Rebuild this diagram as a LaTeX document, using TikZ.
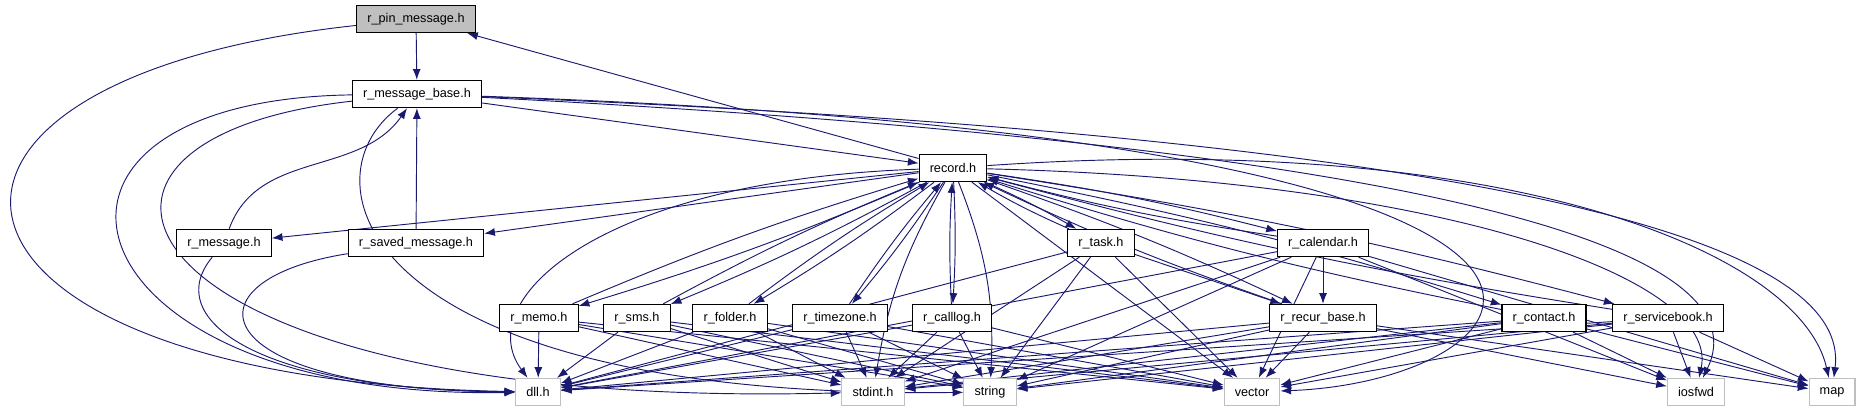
\documentclass[tikz,border=0pt]{standalone}
\usepackage{fontspec}
\setmainfont{Liberation Sans}
\usetikzlibrary{arrows.meta,backgrounds}
\definecolor{incblue}{HTML}{191970}
\definecolor{sysgray}{HTML}{BFBFBF}
\tikzset{
  file/.style={draw=black,fill=white,line width=0.8pt,font=\fontsize{9.5}{11}\selectfont,
    inner xsep=8pt,inner ysep=0pt,minimum height=20.5pt},
  rootfile/.style={file,fill=sysgray},
  sysfile/.style={file,draw=sysgray},
  inc/.style={draw=incblue,line width=0.7pt,-{Latex[length=8pt,width=6pt]}}
}
\begin{document}
\begin{tikzpicture}[x=0.75pt,y=0.75pt]
\useasboundingbox (0,0) rectangle (1859,411);

\node[rootfile] (pin) at (416,392) {r\_pin\_message.h};
\node[file] (mbase) at (417,317) {r\_message\_base.h};
\node[file] (record) at (953,243) {record.h};

\node[file] (msg) at (224,168) {r\_message.h};
\node[file] (saved) at (416,168) {r\_saved\_message.h};
\node[file] (task) at (1101,168) {r\_task.h};
\node[file] (cal) at (1323,168) {r\_calendar.h};

\node[file] (memo) at (539,93) {r\_memo.h};
\node[file] (sms) at (637,93) {r\_sms.h};
\node[file] (folder) at (730,93) {r\_folder.h};
\node[file] (tz) at (840,93) {r\_timezone.h};
\node[file] (calllog) at (952,93) {r\_calllog.h};
\node[file] (recur) at (1323,93) {r\_recur\_base.h};
\node[file] (contact) at (1544,93) {r\_contact.h};
\node[file] (sb) at (1668,93) {r\_servicebook.h};

\node[sysfile] (dll) at (538,19) {dll.h};
\node[sysfile] (stdint) at (873,19) {stdint.h};
\node[sysfile] (string) at (990,19) {string};
\node[sysfile] (vector) at (1252,19) {vector};
\node[sysfile] (iosfwd) at (1696,19) {iosfwd};
\node[sysfile] (map) at (1832,19) {map};

\begin{scope}[on background layer]
\draw[inc] (pin) -- (mbase);
\draw[inc] (pin) .. controls (-150,331) and (-100,31) .. (dll);
\draw[inc] (record) -- (pin);

\draw[inc] (mbase) -- (record);
\draw[inc] (mbase) .. controls (-20,311) and (60,11) .. (dll);
\draw[inc] (mbase) .. controls (0,271) and (120,0) .. (stdint);
\draw[inc] (mbase) .. controls (300,231) and (360,11) .. (string);
\draw[inc] (mbase) .. controls (1750,271) and (1550,30) .. (vector);
\draw[inc] (mbase) .. controls (1500,261) and (1760,151) .. (iosfwd);
\draw[inc] (mbase) .. controls (1550,271) and (1850,161) .. (map);

\draw[inc] (record) -- (msg);
\draw[inc] (record) -- (saved);
\draw[inc] (msg) to[out=70,in=235] (mbase);
\draw[inc] (saved) -- (mbase);
\draw[inc] (msg) .. controls (160,91) and (260,21) .. (dll);
\draw[inc] (saved) .. controls (180,131) and (200,21) .. (dll);

\draw[inc] (record) .. controls (600,231) and (470,111) .. (dll);
\draw[inc] (record) to[bend right=10] (stdint);
\draw[inc] (record) to[bend left=12] (string);
\draw[inc] (record) -- (vector);
\draw[inc] (record) .. controls (1450,231) and (1720,131) .. (iosfwd);
\draw[inc] (record) .. controls (1500,281) and (1800,161) .. (map);

\foreach \c in {memo,sms,folder,tz,calllog,task,cal,recur,contact,sb} {
  \draw[inc] (record) to[bend left=3] (\c);
  \draw[inc] (\c) to[bend left=3] (record);
}
\draw[inc] (task) -- (recur);
\draw[inc] (cal) -- (recur);

\foreach \c in {memo,sms,folder,tz,calllog,task,cal,recur,contact,sb}
  \foreach \b in {dll,stdint,string,vector}
    \draw[inc] (\c) -- (\b);
\foreach \c in {cal,recur,contact,sb}
  \foreach \b in {iosfwd,map}
    \draw[inc] (\c) -- (\b);
\end{scope}
\end{tikzpicture}
\end{document}
